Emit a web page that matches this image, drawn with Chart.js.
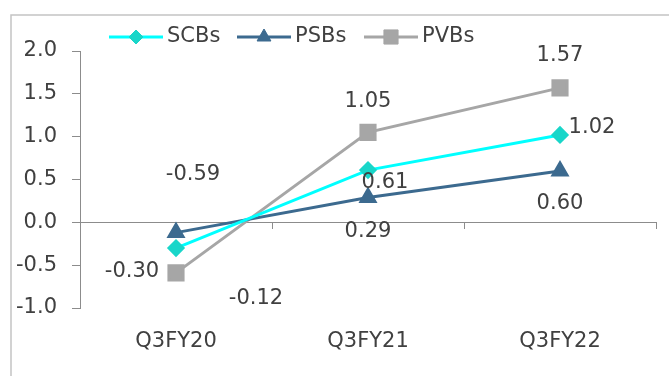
<!DOCTYPE html>
<html>
<head>
<meta charset="utf-8">
<script src="https://cdn.jsdelivr.net/npm/chart.js@4/dist/chart.umd.min.js"></script>
<style>
    html, body { margin: 0; padding: 0; background: #ffffff; }
    #wrap { width: 669px; height: 376px; }
</style>
</head>
<body>
<div id="wrap"><canvas id="chart" width="669" height="376"></canvas></div>
<script>
    // ---- data ----
    var quarters = ['Q3FY20', 'Q3FY21', 'Q3FY22'];
    var scbValues = [-0.30, 0.61, 1.02];
    var psbValues = [-0.12, 0.29, 0.60];
    var pvbValues = [-0.59, 1.05, 1.57];
    var yTicks = [-1.0, -0.5, 0.0, 0.5, 1.0, 1.5, 2.0];

    var FONT = "'DejaVu Sans', Verdana, sans-serif";
    var TEXT = '#404040';
    var AXIS = '#8c8c8c';

    // label offsets (px from the point) as placed in the original figure
    var labelOffsets = [
        [[-44, 24], [17, 12], [32, -7]],    // SCBs
        [[80, 66], [0, 34], [0, 33]],       // PSBs
        [[17, -98], [0, -31], [0, -32]]     // PVBs
    ];

    var frame = {
        id: 'frame',
        beforeDraw: function (chart) {
            var ctx = chart.ctx;
            ctx.save();
            ctx.strokeStyle = '#c4c4c4';
            ctx.lineWidth = 1.5;
            ctx.beginPath();
            ctx.moveTo(11, 400);
            ctx.lineTo(11, 15);
            ctx.lineTo(700, 15);
            ctx.stroke();
            ctx.restore();
        }
    };

    var valueLabels = {
        id: 'valueLabels',
        afterDatasetsDraw: function (chart) {
            var ctx = chart.ctx;
            ctx.save();
            ctx.font = '21px ' + FONT;
            ctx.fillStyle = TEXT;
            ctx.textAlign = 'center';
            ctx.textBaseline = 'middle';
            chart.data.datasets.forEach(function (ds, di) {
                var meta = chart.getDatasetMeta(di);
                meta.data.forEach(function (pt, i) {
                    var off = labelOffsets[di][i];
                    ctx.fillText(ds.data[i].toFixed(2), pt.x + off[0], pt.y + off[1]);
                });
            });
            ctx.restore();
        }
    };

    var lineLegend = {
        id: 'lineLegend',
        afterDraw: function (chart) {
            var ctx = chart.ctx;
            var starts = [109, 237, 364];
            var y = 37;
            ctx.save();
            chart.data.datasets.forEach(function (ds, i) {
                var x0 = starts[i];
                ctx.strokeStyle = ds.borderColor;
                ctx.lineWidth = 3;
                ctx.beginPath();
                ctx.moveTo(x0, y);
                ctx.lineTo(x0 + 54, y);
                ctx.stroke();
                ctx.fillStyle = ds.pointBackgroundColor;
                ctx.strokeStyle = ds.pointBorderColor;
                ctx.lineWidth = 1;
                Chart.helpers.drawPoint(ctx, {
                    pointStyle: ds.pointStyle,
                    radius: ds.pointRadius,
                    borderWidth: 1,
                    rotation: 0
                }, x0 + 27, y);
                ctx.font = '21px ' + FONT;
                ctx.fillStyle = TEXT;
                ctx.textAlign = 'left';
                ctx.textBaseline = 'middle';
                ctx.fillText(ds.label, x0 + 58, y);
            });
            ctx.restore();
        }
    };

    new Chart(document.getElementById('chart').getContext('2d'), {
        type: 'line',
        data: {
            labels: quarters,
            datasets: [{
                label: 'SCBs',
                data: scbValues,
                borderColor: '#00ffff',
                borderWidth: 3,
                pointStyle: 'rectRot',
                pointRadius: 7,
                pointBackgroundColor: '#19d6c9',
                pointBorderColor: '#19d6c9',
                tension: 0
            }, {
                label: 'PSBs',
                data: psbValues,
                borderColor: '#3c6a8f',
                borderWidth: 3,
                pointStyle: 'triangle',
                pointRadius: 8,
                pointBackgroundColor: '#3c6a8f',
                pointBorderColor: '#3c6a8f',
                tension: 0
            }, {
                label: 'PVBs',
                data: pvbValues,
                borderColor: '#a6a6a6',
                borderWidth: 3,
                pointStyle: 'rect',
                pointRadius: 10,
                pointBackgroundColor: '#a6a6a6',
                pointBorderColor: '#a6a6a6',
                tension: 0
            }]
        },
        options: {
            responsive: false,
            animation: false,
            devicePixelRatio: 1,
            layout: { padding: { top: 51, right: 4, bottom: 0, left: 0 } },
            plugins: {
                legend: { display: false },
                tooltip: { enabled: false }
            },
            scales: {
                x: {
                    type: 'category',
                    offset: true,
                    grid: { display: false, drawTicks: false },
                    border: { display: false },
                    ticks: { color: TEXT, font: { family: FONT, size: 21 }, padding: 21, maxRotation: 0 },
                    afterFit: function (scale) { scale.height = 68; }
                },
                xZero: {
                    type: 'category',
                    axis: 'x',
                    position: { y: 0 },
                    offset: true,
                    grid: { offset: true, drawOnChartArea: false, drawTicks: true, tickLength: 6, tickColor: AXIS, color: AXIS },
                    border: { display: true, color: AXIS, width: 1 },
                    ticks: { display: false }
                },
                y: {
                    min: -1,
                    max: 2,
                    afterBuildTicks: function (scale) {
                        scale.ticks = yTicks.map(function (v) { return { value: v }; });
                    },
                    grid: { drawOnChartArea: false, drawTicks: true, tickLength: 8, tickColor: AXIS },
                    border: { display: true, color: AXIS, width: 1 },
                    ticks: {
                        color: TEXT,
                        font: { family: FONT, size: 21 },
                        padding: 15,
                        callback: function (v) { return Number(v).toFixed(1); }
                    },
                    afterFit: function (scale) { scale.width = 80; }
                }
            }
        },
        plugins: [frame, valueLabels, lineLegend]
    });
</script>
</body>
</html>
